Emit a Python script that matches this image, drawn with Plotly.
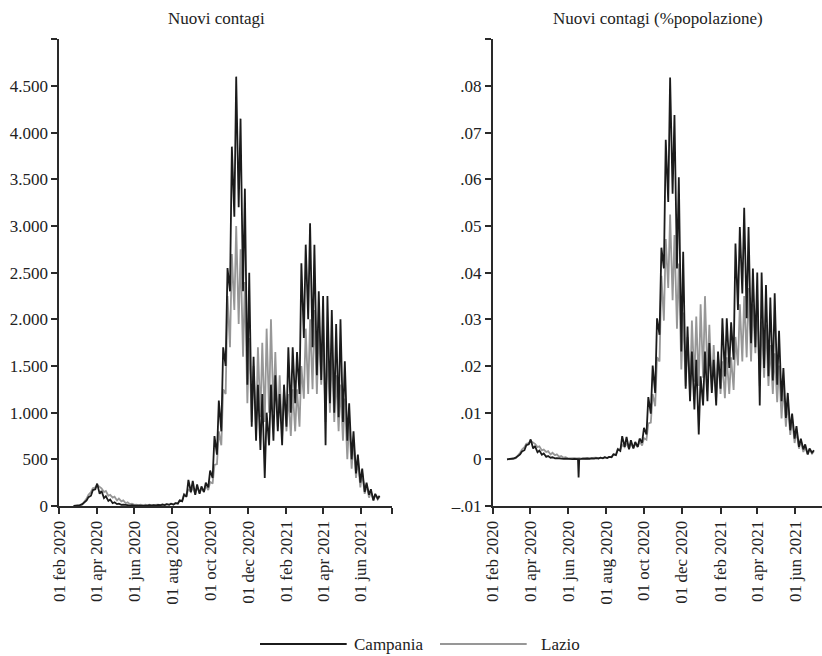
import pandas as pd
import plotly.graph_objects as go

# ---------------- data (semi-weekly readings: Monday / Thursday) ----------------
first_monday = "2020-02-24"
n_weeks = 71

campania_mon = [0, 2, 20, 60, 110, 180, 130, 85, 55, 30, 20, 12, 8, 5, 3, 2, 2, 5, 3, 5,
                8, 10, 12, 15, 25, 50, 100, 150, 120, 130, 150, 200, 300, 550, 800, 1500, 2300, 3100, 3200, 2300,
                1300, 850, 700, 600, 300, 650, 700, 800, 650, 850, 1000, 1100, 1200, 1800, 2000, 1700, 1400, 1350, 650, 1100,
                1000, 950, 900, 700, 500, 350, 250, 150, 120, 60, 80]
campania_thu = [1, 10, 40, 95, 170, 240, 160, 105, 70, 40, 25, 15, 10, 8, 5, 5, -220, 8, 10, 12,
                15, 20, 25, 30, 60, 120, 280, 270, 230, 210, 250, 380, 750, 1130, 1700, 2550, 3850, 4600, 4150, 3400,
                2500, 1600, 1300, 1200, 1000, 1300, 1400, 1200, 1300, 1700, 1700, 1650, 2600, 2800, 3030, 2800, 2300, 2250, 2250, 2100,
                1950, 2000, 1550, 1100, 800, 550, 400, 250, 180, 130, 110]
lazio_mon = [0, 1, 15, 80, 150, 200, 200, 150, 110, 90, 60, 50, 30, 20, 12, 10, 10, 8, 10, 8,
             10, 12, 15, 15, 30, 60, 120, 150, 130, 140, 150, 170, 240, 450, 650, 1200, 1700, 2100, 1950, 1600,
             1100, 900, 800, 950, 900, 1000, 1000, 850, 750, 800, 750, 800, 850, 1150, 1200, 1250, 1200, 1300, 900, 1000,
             900, 800, 700, 500, 400, 300, 200, 130, 90, 60, 70]
lazio_thu = [0, 5, 40, 120, 190, 225, 190, 160, 120, 100, 80, 60, 40, 25, 15, 15, 15, 15, 12, 15,
             20, 20, 25, 30, 60, 130, 180, 200, 200, 190, 220, 260, 440, 800, 1250, 2250, 2700, 3000, 2750, 2400,
             1800, 1500, 1700, 1750, 1900, 2000, 1650, 1400, 1250, 1200, 1250, 1250, 1500, 1900, 2000, 2100, 1900, 1950, 1700, 1650,
             1400, 1300, 1150, 900, 700, 500, 350, 230, 150, 120, 100]

# single-day readings around the June 2020 correction
extra_dates = ["2020-06-17", "2020-06-19"]
campania_extra = [3, 4]
lazio_extra = [14, 14]

# population used for the "% popolazione" panel
pop_campania = 5_624_000
pop_lazio = 5_720_000

# axis ticks
x_tickvals = ["2020-02-01", "2020-04-01", "2020-06-01", "2020-08-01", "2020-10-01",
              "2020-12-01", "2021-02-01", "2021-04-01", "2021-06-01"]
x_ticktext = ["01 feb 2020", "01 apr 2020", "01 jun 2020", "01 aug 2020", "01 oct 2020",
              "01 dec 2020", "01 feb 2021", "01 apr 2021", "01 jun 2021"]
y1_tickvals = [0, 500, 1000, 1500, 2000, 2500, 3000, 3500, 4000, 4500, 5000]
y1_ticktext = ["0", "500", "1.000", "1.500", "2.000", "2.500", "3.000", "3.500", "4.000", "4.500", ""]
y2_tickvals = [-0.01, 0, 0.01, 0.02, 0.03, 0.04, 0.05, 0.06, 0.07, 0.08, 0.09]
y2_ticktext = ["\u2013.01", "0", ".01", ".02", ".03", ".04", ".05", ".06", ".07", ".08", ""]

# ---------------- build table ----------------
mondays = pd.date_range(first_monday, periods=n_weeks, freq="7D")
rows = []
for i, m in enumerate(mondays):
    rows.append((m, campania_mon[i], lazio_mon[i]))
    rows.append((m + pd.Timedelta(days=3), campania_thu[i], lazio_thu[i]))
for d, c, l in zip(extra_dates, campania_extra, lazio_extra):
    rows.append((pd.Timestamp(d), c, l))
df = pd.DataFrame(rows, columns=["date", "campania", "lazio"]).sort_values("date")
df["campania_pct"] = df["campania"] / pop_campania * 100
df["lazio_pct"] = df["lazio"] / pop_lazio * 100

BLACK = "#1b1b1b"
GREY = "#979797"
AX = "#2a2a2a"
FONT = "Liberation Serif"
W, H = 822, 656

fig = go.Figure()
fig.add_trace(go.Scatter(x=df["date"], y=df["lazio"], mode="lines", name="Lazio",
                         line=dict(color=GREY, width=1.8), xaxis="x", yaxis="y", showlegend=False))
fig.add_trace(go.Scatter(x=df["date"], y=df["campania"], mode="lines", name="Campania",
                         line=dict(color=BLACK, width=1.8), xaxis="x", yaxis="y", showlegend=False))
fig.add_trace(go.Scatter(x=df["date"], y=df["lazio_pct"], mode="lines", name="Lazio",
                         line=dict(color=GREY, width=1.8), xaxis="x2", yaxis="y2", showlegend=False))
fig.add_trace(go.Scatter(x=df["date"], y=df["campania_pct"], mode="lines", name="Campania",
                         line=dict(color=BLACK, width=1.8), xaxis="x2", yaxis="y2", showlegend=False))

y_bottom = 506
y_top = 39.3
ydom = [1 - y_bottom / H, 1 - y_top / H]

common_x = dict(type="date", showgrid=False, zeroline=False, showline=True, linecolor=AX, linewidth=1.8,
                ticks="outside", ticklen=6, tickwidth=1.5, tickcolor=AX, tickangle=-90, automargin=False,
                tickfont=dict(family=FONT, size=17, color="#222"))
common_y = dict(showgrid=False, zeroline=False, showline=True, linecolor=AX, linewidth=1.8,
                ticks="outside", ticklen=6, tickwidth=1.5, tickcolor=AX, automargin=False,
                tickfont=dict(family=FONT, size=17, color="#222"))

fig.update_layout(
    width=W, height=H,
    margin=dict(l=0, r=0, t=0, b=0, autoexpand=False),
    paper_bgcolor="white", plot_bgcolor="white",
    font=dict(family=FONT, size=17, color="#222"),
    xaxis=dict(domain=[59.3 / W, 392 / W], range=["2020-02-01", "2021-07-21"],
               tickvals=x_tickvals + ["2021-07-21"], ticktext=x_ticktext + [""], anchor="y", **common_x),
    yaxis=dict(domain=ydom, range=[0, 5000], tickvals=y1_tickvals, ticktext=y1_ticktext,
               anchor="x", **common_y),
    xaxis2=dict(domain=[492.7 / W, 1.0], range=["2020-02-01", "2021-07-14"],
                tickvals=x_tickvals, ticktext=x_ticktext, anchor="y2", **common_x),
    yaxis2=dict(domain=ydom, range=[-0.01, 0.09], tickvals=y2_tickvals, ticktext=y2_ticktext,
                anchor="x2", **common_y),
    showlegend=False,
)

# titles
fig.add_annotation(text="Nuovi contagi", x=216.7 / W, y=1 - 18 / H, xref="paper", yref="paper",
                   showarrow=False, xanchor="center", yanchor="middle",
                   font=dict(family=FONT, size=17, color="#222"))
fig.add_annotation(text="Nuovi contagi (%popolazione)", x=657.7 / W, y=1 - 18 / H, xref="paper", yref="paper",
                   showarrow=False, xanchor="center", yanchor="middle",
                   font=dict(family=FONT, size=17, color="#222"))

# legend (drawn as keys + labels)
leg_y = 1 - 644 / H
for (x0, x1, col, label, tx) in [(260, 346.7, BLACK, "Campania", 352), (440, 526.7, GREY, "Lazio", 539)]:
    fig.add_shape(type="line", xref="paper", yref="paper", x0=x0 / W, x1=x1 / W, y0=leg_y, y1=leg_y,
                  line=dict(color=col, width=2.2))
    fig.add_annotation(text=label, x=tx / W, y=leg_y, xref="paper", yref="paper", showarrow=False,
                       xanchor="left", yanchor="middle", font=dict(family=FONT, size=17, color="#222"))

fig.write_html("out.html")
